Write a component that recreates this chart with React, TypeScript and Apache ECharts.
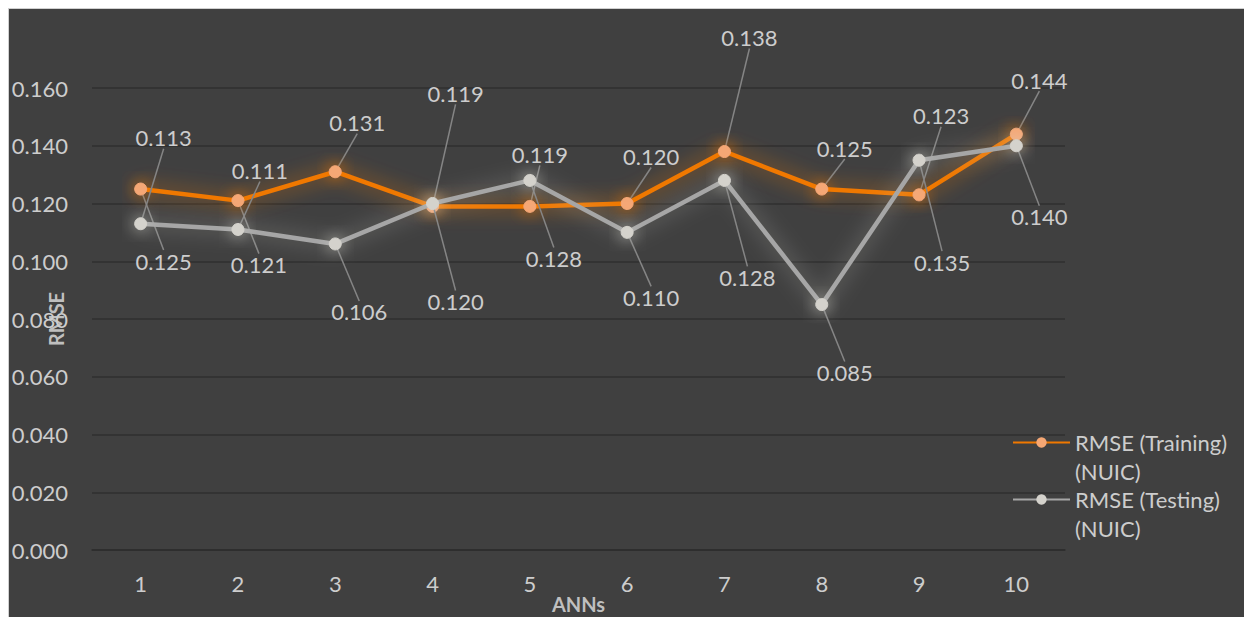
import React, { useEffect, useRef } from "react";
import * as echarts from "echarts";

const categories = ["1", "2", "3", "4", "5", "6", "7", "8", "9", "10"];
const trainingValues = [0.125, 0.121, 0.131, 0.119, 0.119, 0.12, 0.138, 0.125, 0.123, 0.144];
const testingValues = [0.113, 0.111, 0.106, 0.12, 0.128, 0.11, 0.128, 0.085, 0.135, 0.14];
const trainingName = "RMSE (Training)\n(NUIC)";
const testingName = "RMSE (Testing)\n(NUIC)";
const yTicks = { min: 0, max: 0.16, interval: 0.02 };

// label offsets (layout only): [dx, dy] from each point's centre
const trainingLabelOffsets = [
  [23, 72], [21, 64], [22, -49], [23, -113], [10, -52],
  [24, -47], [25, -114], [23, -41], [22, -79], [23, -54],
];
const testingLabelOffsets = [
  [23, -86], [22, -59], [24, 68], [23, 98], [24, 78],
  [24, 65], [23, 97], [23, 68], [23, 102], [23, 71],
];

const FONT = "Lato, 'Open Sans', sans-serif";
const TEXT = "#cdcdcd";

export default function App() {
  const ref = useRef<HTMLDivElement>(null);
  useEffect(() => {
    if (!ref.current) return;
    const chart = echarts.init(ref.current, undefined, { renderer: "svg" });
    const labelCommon = {
      show: true,
      color: TEXT,
      fontSize: 22,
      fontFamily: FONT,
      padding: [4, 4, 4, 4],
      formatter: (p: any) => Number(p.value).toFixed(3),
    };
    const labelLine = { show: true, lineStyle: { color: "#858585", width: 1.5 } };
    const layoutFor = (offsets: number[][]) => (p: any) => {
      const o = offsets[p.dataIndex] || [0, -30];
      const cx = p.rect.x + p.rect.width / 2;
      const cy = p.rect.y + p.rect.height / 2;
      return { x: cx + o[0], y: cy + o[1], align: "center", verticalAlign: "middle" };
    };
    chart.setOption({
      animation: false,
      backgroundColor: "#404040",
      grid: { left: 83, top: 79, right: 185, bottom: 71, outerBoundsMode: "none", containLabel: false },
      legend: {
        orient: "vertical",
        left: 1003,
        top: 390,
        padding: 0,
        itemWidth: 57,
        itemHeight: 13,
        itemGap: -30,
        formatter: (name: string) => "\n" + name,
        textStyle: {
          color: TEXT,
          fontSize: 22,
          fontFamily: FONT,
          lineHeight: 29,
        },
        data: [trainingName, testingName],
      },
      xAxis: {
        type: "category",
        data: categories,
        boundaryGap: true,
        name: "ANNs",
        nameLocation: "middle",
        nameGap: 44,
        nameMoveOverlap: false,
        nameTextStyle: { color: "#bfbfbf", fontSize: 20, fontWeight: "bold", fontFamily: FONT },
        axisLine: { show: true, lineStyle: { color: "#2e2e2e", width: 1.5 } },
        axisTick: { show: false },
        axisLabel: { color: TEXT, fontSize: 22, fontFamily: FONT, margin: 22 },
      },
      yAxis: {
        type: "value",
        min: yTicks.min,
        max: yTicks.max,
        interval: yTicks.interval,
        name: "RMSE",
        nameLocation: "middle",
        nameGap: 26,
        nameRotate: 90,
        nameMoveOverlap: false,
        nameTextStyle: { color: "#bfbfbf", fontSize: 20, fontWeight: "bold", fontFamily: FONT },
        axisLine: { show: false },
        axisTick: { show: false },
        axisLabel: {
          color: TEXT,
          fontSize: 22,
          fontFamily: FONT,
          margin: 24,
          formatter: (v: number) => v.toFixed(3),
        },
        splitLine: { lineStyle: { color: "#2f2f2f", width: 1.5 } },
      },
      series: [
        {
          name: trainingName,
          type: "line",
          data: trainingValues,
          symbol: "circle",
          symbolSize: 12,
          lineStyle: {
            color: "#f07800",
            width: 4.5,
            shadowBlur: 20,
            shadowColor: "rgba(240,120,0,0.85)",
          },
          itemStyle: {
            color: "#f5a774",
            borderColor: "#f5a774",
            shadowBlur: 16,
            shadowColor: "rgba(240,120,0,0.95)",
          },
          label: labelCommon,
          labelLine,
          labelLayout: layoutFor(trainingLabelOffsets),
          z: 2,
        },
        {
          name: testingName,
          type: "line",
          data: testingValues,
          symbol: "circle",
          symbolSize: 12,
          lineStyle: {
            color: "#a6a6a6",
            width: 4.5,
            shadowBlur: 20,
            shadowColor: "rgba(200,200,190,0.6)",
          },
          itemStyle: {
            color: "#d4d2cc",
            borderColor: "#d4d2cc",
            shadowBlur: 16,
            shadowColor: "rgba(220,220,210,0.85)",
          },
          label: labelCommon,
          labelLine,
          labelLayout: layoutFor(testingLabelOffsets),
          z: 3,
        },
      ],
    });
    return () => chart.dispose();
  }, []);
  return (
    <div style={{ border: "1px solid #d0d0d0", width: 1241, height: 612, background: "#404040" }}>
      <div ref={ref} style={{ width: 1241, height: 612 }} />
    </div>
  );
}
